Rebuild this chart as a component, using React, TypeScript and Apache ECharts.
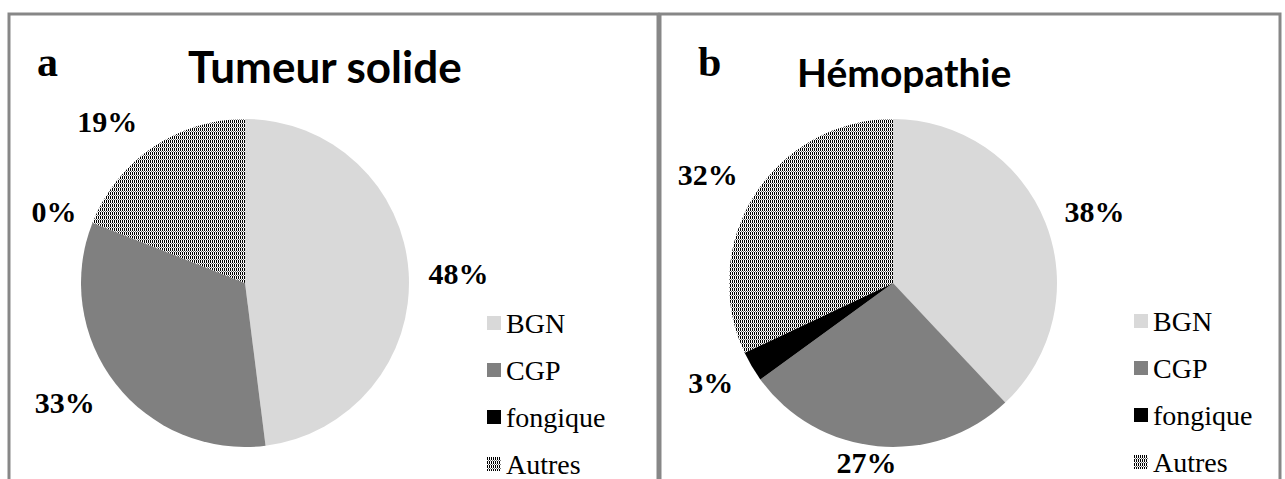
import React, { useEffect, useRef } from 'react';
import * as echarts from 'echarts';

const categories = ['BGN', 'CGP', 'fongique', 'Autres'];
const tumeurValues = [48, 33, 0, 19];
const hemoValues = [38, 27, 3, 32];
const panelLetters = ['a', 'b'];
const panelTitles = ['Tumeur solide', 'Hémopathie'];

// small visual nudges of the percentage labels (style only)
const tumeurLabelNudge = [[3, 4], [-12, -11], [1, 4], [-20, 12]];
const hemoLabelNudge = [[3, 7], [-8, -2], [-4, -6], [-5, 6]];

const W = 1285;
const H = 479;
const R = 164;
const PIES = [
  { cx: 245, cy: 283, values: tumeurValues, nudge: tumeurLabelNudge },
  { cx: 893, cy: 283, values: hemoValues, nudge: hemoLabelNudge },
];

function makePattern() {
  const c = document.createElement('canvas');
  c.width = 2;
  c.height = 4;
  const ctx = c.getContext('2d')!;
  ctx.fillStyle = '#ffffff';
  ctx.fillRect(0, 0, 2, 4);
  ctx.fillStyle = '#000000';
  ctx.fillRect(0, 0, 1, 3);
  ctx.fillStyle = '#7a7a7a';
  ctx.fillRect(1, 3, 1, 1);
  return { image: c.toDataURL(), repeat: 'repeat', imageWidth: 2, imageHeight: 4 };
}

function makeLabelLayout(values: number[], cx: number, cy: number, r: number, nudge: number[][]) {
  const total = values.reduce((a, b) => a + b, 0);
  return (params: any) => {
    const idx = params.dataIndex;
    let cum = 0;
    for (let i = 0; i < idx; i++) cum += values[i];
    const mid = ((90 - (360 * (cum + values[idx] / 2)) / total) * Math.PI) / 180;
    const c = Math.cos(mid);
    const s = Math.sin(mid);
    const hw = params.labelRect.width / 2;
    const hh = params.labelRect.height / 2;
    const d = r + 16 + Math.abs(c) * hw + Math.abs(s) * hh;
    const x = cx + d * c;
    let y = cy - d * s;
    y = Math.min(y, H - hh);
    const n = nudge[idx] || [0, 0];
    return { x: x + n[0], y: y + n[1], align: 'center', verticalAlign: 'middle' };
  };
}

export default function App() {
  const ref = useRef<HTMLDivElement>(null);
  useEffect(() => {
    if (!ref.current) return;
    const chart = echarts.init(ref.current, null, { renderer: 'svg' });
    const pattern = makePattern();
    const colors: any[] = ['#d9d9d9', '#808080', '#000000', pattern];

    const serif = "'Liberation Serif', 'Times New Roman', serif";
    const legendBase = {
      data: categories,
      orient: 'vertical',
      icon: 'rect',
      itemWidth: 14,
      itemHeight: 14,
      itemGap: 19,
      padding: 0,
      selectedMode: false,
      textStyle: {
        fontFamily: serif,
        fontSize: 28,
        lineHeight: 28,
        color: '#000',
      },
    };

    const option: any = {
      animation: false,
      backgroundColor: '#ffffff',
      title: [
        { text: panelLetters[0], left: 37, top: 41, padding: 0,
          textStyle: { fontFamily: serif, fontWeight: 'bold', fontSize: 42, color: '#000' } },
        { text: panelLetters[1], left: 698, top: 41, padding: 0,
          textStyle: { fontFamily: serif, fontWeight: 'bold', fontSize: 42, color: '#000' } },
        { text: panelTitles[0], left: 188, top: 44, padding: 0,
          textStyle: { fontFamily: 'Lato', fontWeight: 'bold', fontSize: 44, color: '#000' } },
        { text: panelTitles[1], left: 797, top: 52, padding: 0,
          textStyle: { fontFamily: 'Lato', fontWeight: 'bold', fontSize: 39, color: '#000' } },
      ],
      legend: [
        { ...legendBase, left: 487, top: 309 },
        { ...legendBase, left: 1134, top: 307 },
      ],
      graphic: [
        { type: 'rect', silent: true, shape: { x: 9, y: 14, width: 649, height: 520 },
          style: { fill: 'none', stroke: '#878787', lineWidth: 3 } },
        { type: 'rect', silent: true, shape: { x: 660, y: 14, width: 620, height: 520 },
          style: { fill: 'none', stroke: '#878787', lineWidth: 3 } },
      ],
      series: PIES.map((p) => ({
        type: 'pie',
        center: [p.cx, p.cy],
        radius: R,
        startAngle: 90,
        clockwise: true,
        avoidLabelOverlap: false,
        silent: true,
        emphasis: { disabled: true },
        itemStyle: { borderWidth: 0 },
        data: categories.map((name, i) => ({
          name,
          value: p.values[i],
          itemStyle: { color: colors[i] },
        })),
        label: {
          show: true,
          position: 'outside',
          formatter: (prm: any) => `${prm.value}%`,
          fontFamily: serif,
          fontWeight: 'bold',
          fontSize: 30,
          color: '#000',
        },
        labelLine: { show: false },
        labelLayout: makeLabelLayout(p.values, p.cx, p.cy, R, p.nudge),
      })),
    };
    chart.setOption(option);
    return () => chart.dispose();
  }, []);
  return (
    <div
      ref={ref}
      style={{ position: 'absolute', left: 0, top: 0, width: W, height: H }}
    />
  );
}
